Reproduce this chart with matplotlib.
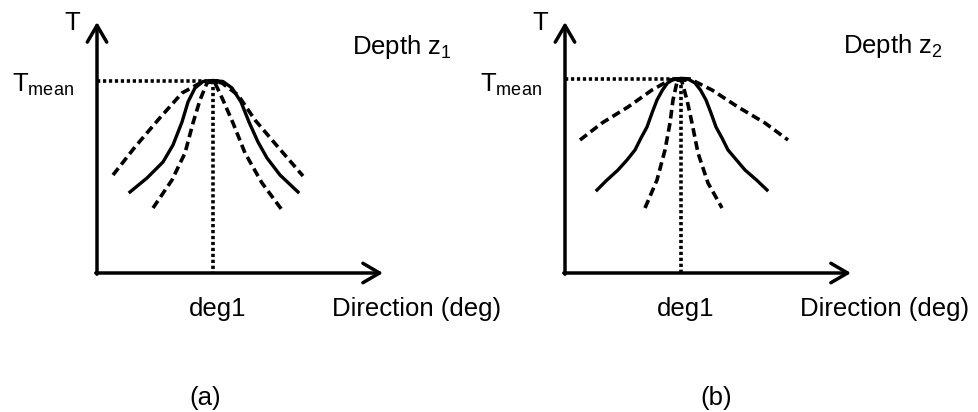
import matplotlib
matplotlib.use("Agg")
import matplotlib.pyplot as plt

plt.rcParams['font.family'] = ['Liberation Sans', 'DejaVu Sans']
plt.rcParams['mathtext.fontset'] = 'custom'
plt.rcParams['mathtext.rm'] = 'Liberation Sans'
plt.rcParams['mathtext.it'] = 'Liberation Sans'

# schematic curves (x = direction, y = T)
PEAK_X = 11.6
A_PEAK_Y = 19.2
B_PEAK_Y = 19.45

A_OUTER_X = [1.6, 3.8, 6.1, 8.5, 10.5, 11.6, 12.5, 14.1, 15.8, 18.1, 20.6]
A_OUTER_Y = [9.8, 12.6, 15.3, 18.0, 19.1, 19.2, 19.0, 17.8, 15.3, 12.6, 9.7]
A_SOLID_X = [3.3, 5.0, 6.6, 7.6, 8.5, 9.1, 9.8, 10.6, 11.6,
             12.6, 13.5, 14.4, 15.2, 16.1, 17.0, 18.3, 20.1]
A_SOLID_Y = [8.1, 9.5, 11.1, 12.8, 15.1, 17.1, 18.5, 19.15, 19.25,
             19.15, 18.5, 17.1, 15.1, 13.1, 11.5, 9.8, 8.1]
A_INNER_X = [5.6, 7.5, 8.8, 9.6, 10.3, 11.0, 11.6, 11.8, 12.6, 13.6, 14.8, 16.5, 18.5]
A_INNER_Y = [6.5, 9.3, 12.0, 15.0, 17.3, 19.0, 19.2, 19.0, 17.3, 15.0, 12.0, 9.0, 6.3]

B_OUTER_X = [1.5, 3.7, 6.3, 8.7, 10.5, 11.6, 12.5, 14.7, 17.3, 20.0, 22.3]
B_OUTER_Y = [13.3, 15.0, 16.6, 18.3, 19.3, 19.45, 19.4, 18.3, 16.6, 15.0, 13.3]
B_SOLID_X = [3.2, 4.2, 5.3, 6.2, 7.0, 7.6, 8.2, 8.7, 9.2, 9.75, 10.25, 10.9, 11.6,
             12.3, 13.0, 13.55, 14.1, 14.6, 15.1, 15.7, 16.3, 17.15, 18.0, 19.15, 20.2]
B_SOLID_Y = [8.3, 9.3, 10.3, 11.3, 12.3, 13.5, 14.6, 16.0, 17.3, 18.3, 19.0, 19.4, 19.45,
             19.4, 19.0, 18.3, 17.3, 16.0, 14.6, 13.5, 12.3, 11.3, 10.3, 9.3, 8.3]
B_INNER_X = [8.0, 9.2, 10.0, 10.5, 10.8, 11.2, 11.6, 11.7, 12.2, 12.7, 13.3, 14.3, 15.7]
B_INNER_Y = [6.5, 9.3, 12.3, 15.0, 17.3, 19.1, 19.45, 19.1, 17.3, 15.0, 12.0, 9.0, 6.5]

X_END = 28.6
Y_END = 25.1
FS = 18.5
DASH = (2.4, 1.3)
DOT = (0.9, 0.75)

fig = plt.figure(figsize=(9.79, 4.12), dpi=100)


def panel(xlim, peak_y, outer, solid, inner, depth, tag, tag_x):
    ax = fig.add_axes([0, 0, 1, 1])
    ax.set_xlim(*xlim)
    ax.set_ylim(-13.9, 27.3)
    ax.axis('off')
    ax.patch.set_alpha(0)

    arrow = dict(arrowstyle='->,head_length=0.6,head_width=0.35', lw=2.5,
                 color='black', mutation_scale=20, shrinkA=0, shrinkB=0)
    ax.annotate('', xy=(X_END, 0), xytext=(-0.12, 0), arrowprops=arrow)
    ax.annotate('', xy=(0, Y_END), xytext=(0, -0.12), arrowprops=arrow)

    # dotted guides to the peak
    ax.plot([0, PEAK_X], [peak_y, peak_y], color='black', lw=2.6,
            dashes=DOT, dash_capstyle='butt')
    ax.plot([PEAK_X, PEAK_X], [peak_y, 0], color='black', lw=2.6,
            dashes=DOT, dash_capstyle='butt')
    ax.plot([PEAK_X - 0.5, PEAK_X + 0.5], [peak_y, peak_y], color='black',
            lw=3.5, solid_capstyle='butt')

    ax.plot(outer[0], outer[1], color='black', lw=2.6, dashes=DASH)
    ax.plot(solid[0], solid[1], color='black', lw=2.4, solid_joinstyle='round')
    ax.plot(inner[0], inner[1], color='black', lw=2.6, dashes=DASH)

    ax.text(-2.45, 25.0, 'T', fontsize=FS, ha='center', va='center')
    ax.text(-8.5, 18.1, r'$\mathregular{T_{mean}}$', fontsize=FS,
            ha='left', va='baseline')
    ax.text(depth[0], depth[1], depth[2], fontsize=FS, ha='left', va='baseline')
    ax.text(12.05, -4.3, 'deg1', fontsize=FS, ha='center', va='baseline')
    ax.text(23.5, -4.3, 'Direction (deg)', fontsize=FS, ha='left', va='baseline')
    ax.text(tag_x, -13.2, tag, fontsize=FS, ha='center', va='baseline')
    return ax


panel((-9.7, 88.2), A_PEAK_Y, (A_OUTER_X, A_OUTER_Y), (A_SOLID_X, A_SOLID_Y),
      (A_INNER_X, A_INNER_Y), (25.5, 21.9, r'Depth $\mathregular{z_1}$'), '(a)', 10.8)
panel((-56.5, 41.4), B_PEAK_Y, (B_OUTER_X, B_OUTER_Y), (B_SOLID_X, B_SOLID_Y),
      (B_INNER_X, B_INNER_Y), (27.8, 22.0, r'Depth $\mathregular{z_2}$'), '(b)', 15.1)

fig.savefig("out.png", dpi=100)
